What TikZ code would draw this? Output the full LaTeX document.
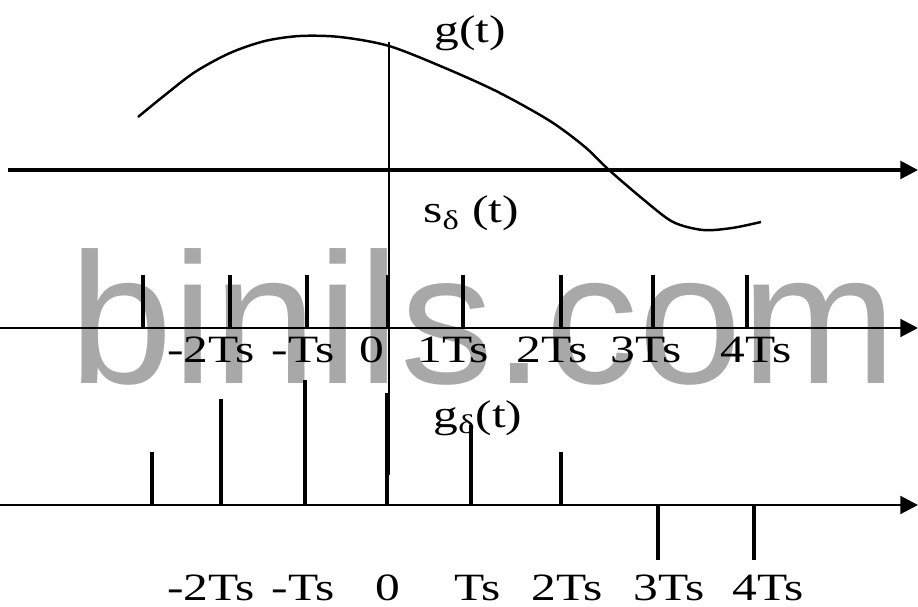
\documentclass[tikz,border=0pt]{standalone}
\usepackage{fontspec}
\setmainfont{Liberation Serif}[FakeStretch=1.28]
\newfontfamily\wmfont{Liberation Sans}
\usetikzlibrary{arrows.meta}
\definecolor{wmgray}{RGB}{168,168,168}

\begin{document}
\begin{tikzpicture}[x=0.02cm, y=-0.02cm,
    axe/.style={line width=1.7pt, -{Triangle[length=10pt,width=10pt]}},
    impulsion/.style={line width=2pt},
    lbl/.style={font=\fontsize{22}{26}\selectfont, inner sep=0pt, anchor=base}]
    \useasboundingbox (0,0) rectangle (918,607);

    % Filigrane
    \node[font=\wmfont\fontsize{106}{120}\selectfont, text=wmgray, inner sep=0pt, anchor=base] (wm) at (483,383) {binils.com};

    % Signal g(t)
    \coordinate (a1s) at (8,170);
    \coordinate (a1e) at (918,170);
    \draw[axe, line width=2pt] (a1s) -- (a1e);
    \draw[line width=1.4pt] plot[smooth] coordinates {(138,117) (165,95) (195,72) (230,53) (265,41) (300,36) (340,37) (389,46) (445,68) (498,92) (550,121) (585,147) (609,170) (644,200) (673,222) (703,230) (732,228) (761,222)};
    \coordinate (vtop) at (389,42);
    \coordinate (vbot) at (389,475);
    \draw[line width=1.5pt] (vtop) -- (vbot);
    \node[lbl] (gt) at (470,43) {g(t)};
    \node[lbl] (sdt) at (471,223) {s\textsubscript{δ}~(t)};

    % Train d'impulsions
    \coordinate (a2s) at (0,328);
    \coordinate (a2e) at (918,328);
    \draw[axe] (a2s) -- (a2e);
    \foreach \x in {143,230,307,388,463,561,653,747}
        \draw[impulsion] (\x,328) -- (\x,275);
    \foreach \x/\t [count=\i] in {211/-2Ts,303/-Ts,372/0,453/1Ts,552/2Ts,646/3Ts,756/4Ts}
        \node[lbl] (m\i) at (\x,362) {\t};

    % Signal échantillonné
    \coordinate (a3s) at (0,505);
    \coordinate (a3e) at (918,505);
    \draw[axe] (a3s) -- (a3e);
    \foreach \x/\h in {152/452,221/399,305/380,387/393,471/425,561/452,658/560,754/560}
        \draw[impulsion] (\x,505) -- (\x,\h);
    \node[lbl] (gdt) at (478,427) {g\textsubscript{δ}(t)};
    \foreach \x/\t [count=\i] in {211/-2Ts,303/-Ts,388/0,478/Ts,567/2Ts,669/3Ts,768/4Ts}
        \node[lbl] (b\i) at (\x,600) {\t};

\end{tikzpicture}
\end{document}
